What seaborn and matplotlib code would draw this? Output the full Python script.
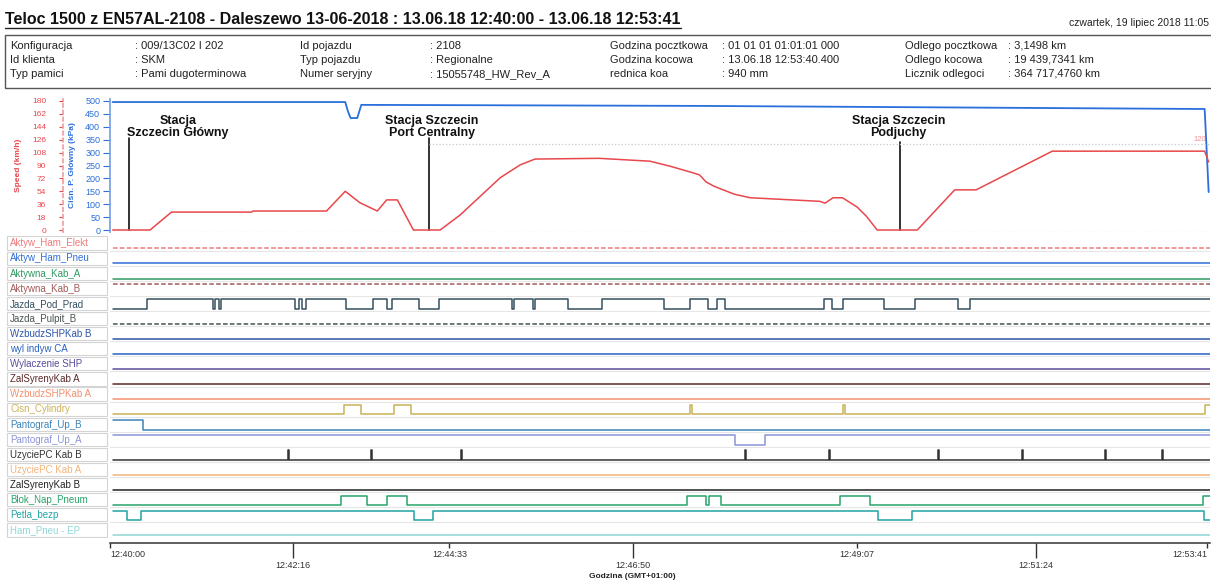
import numpy as np
import pandas as pd
import matplotlib
matplotlib.use('Agg')
import matplotlib.pyplot as plt
import seaborn as sns
from matplotlib.patches import Rectangle
from matplotlib.lines import Line2D

sns.set_theme(style='white')
plt.rcParams['font.family'] = ['Liberation Sans', 'DejaVu Sans']

# ---------------- data (time in seconds after 12:40:00) ----------------
title = "Teloc 1500 z EN57AL-2108 - Daleszewo 13-06-2018 : 13.06.18 12:40:00 - 13.06.18 12:53:41"
date_txt = "czwartek, 19 lipiec 2018 11:05"

info_labels = [["Konfiguracja", "Id klienta", "Typ pamici"],
               ["Id pojazdu", "Typ pojazdu", "Numer seryjny"],
               ["Godzina pocztkowa", "Godzina kocowa", "rednica koa"],
               ["Odlego pocztkowa", "Odlego kocowa", "Licznik odlegoci"]]
info_values = [["009/13C02 I 202", "SKM", "Pami dugoterminowa"],
               ["2108", "Regionalne", "15055748_HW_Rev_A"],
               ["01 01 01 01:01:01 000", "13.06.18 12:53:40.400", "940 mm"],
               ["3,1498 km", "19 439,7341 km", "364 717,4760 km"]]

speed_t = [2, 30, 46, 106, 107, 162, 176, 187, 200, 207, 215, 227, 247, 262, 277,
           292, 307, 318, 366, 404, 419, 434, 441, 446, 452, 467, 479, 531, 535,
           541, 548, 559, 566, 574, 604, 615, 632, 648, 705, 819, 822]
speed_v = [0, 0, 25, 25, 26.5, 26.5, 54, 38, 26.5, 42, 42, 0, 0, 21, 47,
           73, 91, 99, 100, 96, 89, 81, 77, 67, 61, 50, 45, 40, 37.5,
           45, 45, 32, 19, 0, 0, 22, 56, 56, 110, 110, 95]

press_t = [2, 176, 178, 180, 185, 188, 441, 819, 822]
press_v = [496, 496, 460, 434, 434, 485, 481, 469, 147]

press_ticks = list(range(0, 501, 50))
speed_ticks = list(range(0, 181, 18))

stations = ["Stacja\nSzczecin Główny", "Stacja Szczecin\nPort Centralny", "Stacja Szczecin\nPodjuchy"]
station_t = [14, 239, 591]
station_text_t = [51, 241, 590]
station_top = [357, 357, 341]

limit_t = [239, 823]
limit_v = [120, 120]

time_major = [0, 254, 559, 821]
time_major_lab = ["12:40:00", "12:44:33", "12:49:07", "12:53:41"]
time_minor = [137, 391, 693]
time_minor_lab = ["12:42:16", "12:46:50", "12:51:24"]

sig_names = ["Aktyw_Ham_Elekt", "Aktyw_Ham_Pneu", "Aktywna_Kab_A", "Aktywna_Kab_B",
             "Jazda_Pod_Prad", "Jazda_Pulpit_B", "WzbudzSHPKab B", "wyl indyw CA",
             "Wylaczenie SHP", "ZalSyrenyKab A", "WzbudzSHPKab A", "Cisn_Cylindry",
             "Pantograf_Up_B", "Pantograf_Up_A", "UzyciePC Kab B", "UzyciePC Kab A",
             "ZalSyrenyKab B", "Blok_Nap_Pneum", "Petla_bezp", "Ham_Pneu - EP"]
sig_colors = ['#f07a7a', '#2f6fd6', '#2f9a62', '#a35a5a', '#34505e', '#4a5550',
              '#2c55a8', '#2a62c2', '#5b4c9e', '#5a2a2a', '#f2906e', '#c9b25a',
              '#3d84b8', '#8d95d8', '#333333', '#f3b57a', '#222222', '#28a46a',
              '#22a3a3', '#8fd6d6']
sig_init = [0, 0, 0, 1, 0, 0, 0, 0, 0, 0, 0, 0, 1, 1, 0, 0, 0, 0, 1, 0]
sig_dashed = [True, False, False, True, False, True, False, False, False, False,
              False, False, False, False, False, False, False, False, False, False]

jazda_pod_prad_t = [27.7, 77.1, 78.6, 81.6, 83.1, 138.4, 141.4, 143.7, 146.6, 176.6,
                    196.8, 207.3, 211.0, 231.2, 246.2, 300.8, 302.3, 316.5, 318.0,
                    342.7, 368.1, 414.5, 434.0, 447.4, 454.4, 460.1, 534.2, 540.2,
                    548.4, 579.1, 602.3, 634.5, 643.5]
cisn_cylindry_t = [175.1, 187.8, 212.5, 225.2, 434.0, 435.5, 548.4, 549.9, 819.3]
pantograf_b_t = [24.7]
pantograf_a_t = [467.6, 490.1]
uzycie_b_spikes = [133.2, 195.3, 262.6, 475.1, 538.0, 619.5, 682.4, 744.5, 787.1]
blok_nap_t = [172.8, 192.3, 207.3, 222.2, 431.7, 445.9, 448.2, 457.1, 546.2, 568.6, 817.8]
petla_bezp_t = [12.7, 23.2, 227.5, 241.7, 574.6, 600.1, 818.5]

sig_events = [[], [], [], [], jazda_pod_prad_t, [], [], [], [], [], [], cisn_cylindry_t,
              pantograf_b_t, pantograf_a_t,
              sorted(uzycie_b_spikes + [t + 0.8 for t in uzycie_b_spikes]),
              [], [], blok_nap_t, petla_bezp_t, []]

# ---------------- layout helpers ----------------
W, H = 1211, 582
T0, T1 = 0, 823


def fx(px):
    return px / W


def fy(py):
    return 1 - py / H


red = '#e8474c'
blue = '#2a6fdb'

fig = plt.figure(figsize=(W / 100, H / 100), dpi=100)

# header
t_title = fig.text(fx(5), fy(19), title, fontsize=11.5, fontweight='bold', va='center', color='#111111')
fig.text(fx(1209), fy(23), date_txt, fontsize=7.5, ha='right', va='center', color='#222222')
fig.canvas.draw()
bb = t_title.get_window_extent()
fig.add_artist(Line2D([fx(5), bb.x1 / W], [fy(27.5), fy(27.5)], color='#222222', lw=1))
fig.add_artist(Rectangle((fx(5), fy(88)), fx(1220 - 5), (88 - 35) / H, fill=False,
                         ec='#555555', lw=1, transform=fig.transFigure))

lab_x = [10, 300, 610, 905]
val_x = [135, 430, 722, 1008]
row_y = [46, 60, 74]
for c in range(4):
    for r in range(3):
        fig.text(fx(lab_x[c]), fy(row_y[r]), info_labels[c][r], fontsize=8, va='center', color='#222222')
        fig.text(fx(val_x[c]), fy(row_y[r]), ": " + info_values[c][r], fontsize=8, va='center', color='#222222')

# ---------------- top chart ----------------
ax = fig.add_axes([fx(110), fy(232), 1100 / W, 133 / H])
ax.set_xlim(T0, T1)
ax.set_ylim(-7.75, 507.75)
ax2 = ax.twinx()
ax2.set_ylim(-7.75 * 180 / 500, 507.75 * 180 / 500)

press_df = pd.DataFrame({'t': press_t, 'p': press_v})
speed_df = pd.DataFrame({'t': speed_t, 'v': speed_v})
sns.lineplot(data=press_df, x='t', y='p', ax=ax, color=blue, lw=1.3, sort=False, estimator=None)
sns.lineplot(data=speed_df, x='t', y='v', ax=ax2, color=red, lw=1.1, sort=False, estimator=None)
ax2.plot(limit_t, limit_v, color='#c8c8c8', ls=':', lw=0.9)
ax2.text(815, 121, "120", fontsize=5.5, color=red, alpha=0.6, ha='center', va='bottom')
ax.axhline(-6, color='#cfcfcf', ls=':', lw=0.9)

for name, tl, tt, top in zip(stations, station_t, station_text_t, station_top):
    ax.plot([tl, tl], [0, top], color='#111111', lw=1.2)
    ax.text(tt, 400, name, ha='center', va='center', fontsize=9, fontweight='bold',
            linespacing=1.0, color='#111111')

for a in (ax, ax2):
    a.set_xlabel('')
    a.set_ylabel('')
    a.spines['top'].set_visible(False)
    a.spines['right'].set_visible(False)
    a.spines['bottom'].set_visible(False)
    a.set_xticks([])

ax.set_yticks(press_ticks)
ax.tick_params(axis='y', colors=blue, labelsize=6.5, length=5, width=0.8, pad=2, left=True)
ax.spines['left'].set_color('#7aa0e0')

ax2.yaxis.tick_left()
ax2.spines['left'].set_visible(True)
ax2.spines['left'].set_position(('outward', 34))
ax2.spines['left'].set_color('#f0a0a0')
ax2.spines['left'].set_linestyle((0, (2, 2)))
ax2.set_yticks(speed_ticks)
ax2.tick_params(axis='y', colors=red, labelsize=6, length=3, width=0.8, pad=9, left=True, right=False)

fig.text(fx(18), fy(165), "Speed (km/h)", rotation=90, color=red, fontsize=6,
         fontweight='bold', ha='center', va='center')
fig.text(fx(72), fy(165), "Ciśn. P. Główny (kPa)", rotation=90, color=blue, fontsize=6,
         fontweight='bold', ha='center', va='center')

# ---------------- signal rows ----------------
n = len(sig_names)
axs = fig.add_axes([fx(110), fy(537.5), 1100 / W, 302 / H])
axs.set_xlim(T0, T1)
axs.set_ylim(n, 0)
for i in range(n):
    axs.axhline(i + 1, color='#e6e6e6', lw=0.8, zorder=0)

for i in range(n):
    ev = sig_events[i]
    x = np.concatenate([[T0 + 2], ev, [T1]])
    k = np.minimum(np.arange(len(x)), len(x) - 2)
    s = (sig_init[i] + k) % 2
    y = i + 0.85 - 0.62 * s
    ls = (0, (3, 1.5)) if sig_dashed[i] else '-'
    sns.lineplot(x=x, y=y, ax=axs, color=sig_colors[i], lw=1.1, drawstyle='steps-post',
                 sort=False, estimator=None, linestyle=ls)

axs.set_yticks([])
for side in ('left', 'top', 'right'):
    axs.spines[side].set_visible(False)
axs.spines['bottom'].set_position(('outward', 4))
axs.spines['bottom'].set_color('#333333')
axs.spines['bottom'].set_linewidth(1.1)
axs.set_xticks(time_major, time_major_lab)
axs.set_xticks(time_minor, time_minor_lab, minor=True)
axs.tick_params(axis='x', which='major', length=3.5, width=1, color='#333333', pad=1.5,
                labelsize=6.5, labelcolor='#333333', bottom=True)
axs.tick_params(axis='x', which='minor', length=11, width=1, color='#333333', pad=2,
                labelsize=6.5, labelcolor='#333333', bottom=True)
labs = axs.get_xticklabels()
labs[0].set_ha('left')
labs[-1].set_ha('right')
fig.text(fx(632), fy(577), "Godzina (GMT+01:00)", fontsize=6, fontweight='bold',
         ha='center', va='center', color='#222222')

# label column
axl = fig.add_axes([fx(5), fy(537.5), 104 / W, 302 / H])
axl.set_xlim(0, 1)
axl.set_ylim(n, 0)
axl.axis('off')
for i in range(n):
    axl.add_patch(Rectangle((0.02, i + 0.06), 0.96, 0.88, fc='white', ec='#d4d4d4', lw=0.8))
    axl.text(0.05, i + 0.52, sig_names[i], fontsize=7, color=sig_colors[i], va='center', ha='left')

fig.savefig('out.png', dpi=100)
